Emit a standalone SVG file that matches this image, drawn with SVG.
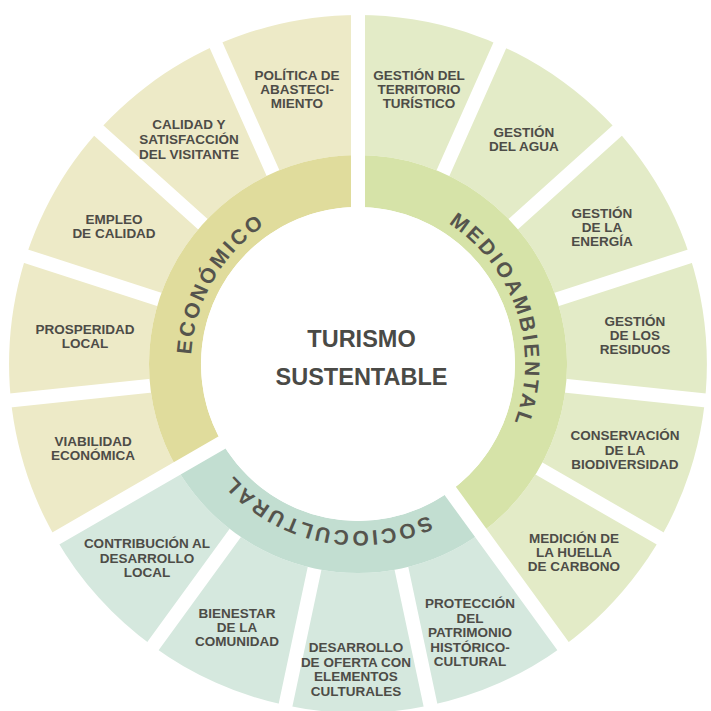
<svg xmlns="http://www.w3.org/2000/svg" width="711" height="711" viewBox="0 0 711 711">
<defs>
<style>
.seg-eco{fill:#edeac7}.band-eco{fill:#e0dc9c}
.seg-med{fill:#e3ebc7}.band-med{fill:#d6e3a8}
.seg-soc{fill:#d5e8de}.band-soc{fill:#c2ded1}
.gap{stroke:#fff;stroke-width:14;fill:none}
.lbl{font-family:"Liberation Sans",Arial,sans-serif;font-weight:bold;font-size:13.5px;fill:#4d4c47;text-anchor:middle}
.ring{font-family:"Liberation Sans",Arial,sans-serif;font-weight:bold;font-size:21px;fill:#55544d;letter-spacing:2.7px;text-anchor:middle}
.title{font-family:"Liberation Sans",Arial,sans-serif;font-weight:bold;font-size:23.5px;fill:#4a4a46;text-anchor:middle}
</style>
<path id="arcEco" d="M274.5,508.6 A167,167 0 0 1 213.4,280.5 A167,167 0 0 1 441.5,219.4"/>
<path id="arcMed" d="M306.4,205.2 A167,167 0 0 1 516.8,312.4 A167,167 0 0 1 409.6,522.8"/>
<path id="arcSoc" d="M521.4,398.7 A167,167 0 0 1 323.3,527.4 A167,167 0 0 1 194.6,329.3"/>
</defs>
<rect width="711" height="711" fill="#fff"/>
<g id="sectors">
<path class="seg-eco" d="M55.8,538.5 A349,349 0 0 1 358,15 L358,155 A209,209 0 0 0 177,468.5 Z"/>
<path class="seg-med" d="M358,15 A349,349 0 0 1 563.1,646.3 L480.9,533.1 A209,209 0 0 0 358,155 Z"/>
<path class="seg-soc" d="M563.1,646.3 A349,349 0 0 1 55.8,538.5 L177,468.5 A209,209 0 0 0 480.9,533.1 Z"/>
</g>
<g id="connectors">
<path class="gap" d="M154.1,385.4 L0,401.6 M163,300.7 L15.6,252.8 M205.7,226.8 L90.5,123.1 M274.6,176.7 L211.6,35.1 M441.4,176.7 L504.4,35.1 M510.3,226.8 L625.5,123.1 M553,300.7 L700.4,252.8 M561.9,385.4 L716,401.6 M535.5,466.5 L669.8,544 M400.6,564.5 L432.8,716.1 M315.4,564.5 L283.2,716.1 M237.5,529.8 L146.4,655.2"/>
</g>
<g id="bands">
<path class="band-eco" d="M177,468.5 A209,209 0 0 1 358,155 L358,207 A157,157 0 0 0 222,442.5 Z"/>
<path class="band-med" d="M358,155 A209,209 0 0 1 480.9,533.1 L450.3,491 A157,157 0 0 0 358,207 Z"/>
<path class="band-soc" d="M480.9,533.1 A209,209 0 0 1 177,468.5 L222,442.5 A157,157 0 0 0 450.3,491 Z"/>
<path class="gap" d="M358,364 L358,0 M358,364 L569.6,655.2 M358,364 L46.2,544"/>
<circle cx="358" cy="364" r="157" fill="#fff"/>
</g>
<g id="ring-labels">
<text class="ring"><textPath href="#arcEco" startOffset="50%">ECONÓMICO</textPath></text>
<text class="ring"><textPath href="#arcMed" startOffset="50%">MEDIOAMBIENTAL</textPath></text>
<text class="ring"><textPath href="#arcSoc" startOffset="50%">SOCIOCULTURAL</textPath></text>
</g>
<g id="center">
<text class="title" x="361.5" y="347">TURISMO</text>
<text class="title" x="361.5" y="385">SUSTENTABLE</text>
</g>
<g id="n-politica"><text class="lbl" x="297" y="80">POLÍTICA DE</text><text class="lbl" x="297" y="94">ABASTECI-</text><text class="lbl" x="297" y="108">MIENTO</text></g>
<g id="n-calidad"><text class="lbl" x="189" y="129">CALIDAD Y</text><text class="lbl" x="189" y="144">SATISFACCIÓN</text><text class="lbl" x="189" y="159">DEL VISITANTE</text></g>
<g id="n-empleo"><text class="lbl" x="114" y="224">EMPLEO</text><text class="lbl" x="114" y="238">DE CALIDAD</text></g>
<g id="n-prosperidad"><text class="lbl" x="85" y="334">PROSPERIDAD</text><text class="lbl" x="85" y="348">LOCAL</text></g>
<g id="n-viabilidad"><text class="lbl" x="93" y="446">VIABILIDAD</text><text class="lbl" x="93" y="460">ECONÓMICA</text></g>
<g id="n-territorio"><text class="lbl" x="419" y="80">GESTIÓN DEL</text><text class="lbl" x="419" y="94">TERRITORIO</text><text class="lbl" x="419" y="108">TURÍSTICO</text></g>
<g id="n-agua"><text class="lbl" x="524" y="137">GESTIÓN</text><text class="lbl" x="524" y="151">DEL AGUA</text></g>
<g id="n-energia"><text class="lbl" x="602" y="218">GESTIÓN</text><text class="lbl" x="602" y="232">DE LA</text><text class="lbl" x="602" y="246">ENERGÍA</text></g>
<g id="n-residuos"><text class="lbl" x="635" y="326">GESTIÓN</text><text class="lbl" x="635" y="340">DE LOS</text><text class="lbl" x="635" y="354">RESIDUOS</text></g>
<g id="n-biodiversidad"><text class="lbl" x="625" y="440">CONSERVACIÓN</text><text class="lbl" x="625" y="454.5">DE LA</text><text class="lbl" x="625" y="469">BIODIVERSIDAD</text></g>
<g id="n-carbono"><text class="lbl" x="574" y="543">MEDICIÓN DE</text><text class="lbl" x="574" y="557">LA HUELLA</text><text class="lbl" x="574" y="571">DE CARBONO</text></g>
<g id="n-patrimonio"><text class="lbl" x="470" y="608">PROTECCIÓN</text><text class="lbl" x="470" y="622.5">DEL</text><text class="lbl" x="470" y="637">PATRIMONIO</text><text class="lbl" x="470" y="651.5">HISTÓRICO-</text><text class="lbl" x="470" y="666">CULTURAL</text></g>
<g id="n-oferta"><text class="lbl" x="356" y="652">DESARROLLO</text><text class="lbl" x="356" y="666.5">DE OFERTA CON</text><text class="lbl" x="356" y="681">ELEMENTOS</text><text class="lbl" x="356" y="695.5">CULTURALES</text></g>
<g id="n-comunidad"><text class="lbl" x="237" y="618">BIENESTAR</text><text class="lbl" x="237" y="632">DE LA</text><text class="lbl" x="237" y="646">COMUNIDAD</text></g>
<g id="n-contribucion"><text class="lbl" x="147" y="548">CONTRIBUCIÓN AL</text><text class="lbl" x="147" y="562.5">DESARROLLO</text><text class="lbl" x="147" y="577">LOCAL</text></g>
</svg>
